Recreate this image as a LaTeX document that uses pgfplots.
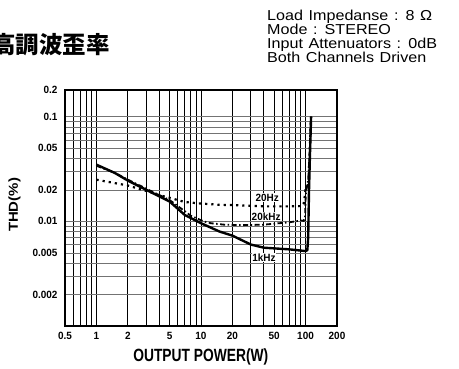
\documentclass[border=0pt]{standalone}
\usepackage{fontspec}
\usepackage{pgfplots}
\pgfplotsset{compat=1.18}
\setmainfont{Liberation Sans}
\newfontfamily\cjk{Noto Sans CJK JP}
\newfontfamily\tickfont{Liberation Sans}[FakeStretch=0.95]
\newfontfamily\labfont{Liberation Sans}[FakeStretch=0.78]
\newfontfamily\thdfont{Liberation Sans}[FakeStretch=1.15]
\newfontfamily\specfont{Liberation Sans}[FakeStretch=1.12,WordSpace=1.25]
\begin{document}
\begin{tikzpicture}
\useasboundingbox (0pt,0pt) rectangle (459pt,369pt);
\begin{axis}[
  at={(65pt,43pt)}, anchor=south west,
  width=272pt, height=236pt, scale only axis,
  xmode=log, ymode=log,
  xmin=0.5, xmax=200, ymin=0.001, ymax=0.18,
  axis line style={line width=1.2pt},
  xtick={0.5,1,2,5,10,20,50,100,200},
  xticklabels={0.5,1,2,5,10,20,50,100,200},
  minor xtick={0.6,0.7,0.8,0.9,3,4,6,7,8,9,30,40,60,70,80,90},
  ytick={0.002,0.005,0.01,0.02,0.05,0.1,0.18},
  yticklabels={0.002,0.005,0.01,0.02,0.05,0.1,0.2},
  minor ytick={0.003,0.004,0.006,0.007,0.008,0.009,0.03,0.04,0.06,0.07,0.08,0.09},
  major tick length=0pt, minor tick length=0pt,
  xmajorgrids, xminorgrids, ymajorgrids, yminorgrids,
  x grid style={black, line width=1pt},
  y grid style={black!55, line width=0.5pt},
  ticklabel style={font=\tickfont\bfseries\fontsize{10.5}{12}\selectfont},
  xticklabel style={yshift=-2.5pt},
  yticklabel style={xshift=-4pt},
  clip=true,
]
% 20Hz
\addplot[black, line width=2.2pt, dash pattern=on 2.2pt off 4pt] coordinates {
 (1,0.025) (1.5,0.0232) (2,0.022) (3,0.0195) (4,0.0178) (5,0.0168) (7,0.0153)
 (10,0.0148) (15,0.0144) (20,0.0143) (40,0.0139) (70,0.0139) (92,0.0140)
 (96,0.0148) (98,0.017) (100,0.020) (104,0.021) (107,0.025) (110,0.05) (113,0.1)};
% 20kHz
\addplot[black, line width=1.8pt, dash pattern=on 5pt off 2.5pt on 1.5pt off 2.5pt] coordinates {
 (1,0.034) (1.5,0.029) (2,0.025) (3,0.0205) (5,0.016) (7,0.0125) (8,0.0113)
 (10.6,0.0100) (12.4,0.0096) (16.6,0.0093) (25,0.0092) (40,0.0093) (70,0.0098)
 (91,0.0102) (96,0.0101) (99,0.011) (100,0.016) (102,0.020) (106,0.025) (110,0.05) (113,0.1)};
% 1kHz
\addplot[black, line width=2.4pt, line join=round] coordinates {
 (1,0.0348) (1.5,0.029) (2,0.0245) (3,0.020) (5,0.0155) (7,0.0115) (10,0.0096)
 (15,0.0080) (20,0.0073) (30,0.0060) (40,0.0056) (70,0.0054) (100,0.0052)
 (104,0.0053) (106,0.007) (107,0.012) (108,0.02) (110,0.04) (113,0.1)};
\node[font=\tickfont\bfseries\fontsize{10.5}{11}\selectfont, fill=white, inner sep=0.5pt] at (axis cs:43,0.0169) {20Hz};
\node[font=\tickfont\bfseries\fontsize{10.5}{11}\selectfont, fill=white, inner sep=0.5pt] at (axis cs:42,0.0111) {20kHz};
\node[font=\tickfont\bfseries\fontsize{10.5}{11}\selectfont, fill=white, inner sep=0.5pt] at (axis cs:40,0.0045) {1kHz};
\end{axis}
\node[font=\labfont\bfseries\fontsize{17.7}{18}\selectfont] at (200.8pt,12pt) {OUTPUT POWER(W)};
\node[font=\thdfont\bfseries\fontsize{13}{14}\selectfont, rotate=90] at (14.5pt,164pt) {THD(\%)};
\node[font=\cjk\bfseries\fontsize{23.5}{24}\selectfont, anchor=east, inner sep=0pt] at (110pt,324pt) {高調波歪率};
\node[font=\specfont\fontsize{14.4}{15}\selectfont, anchor=base west, inner sep=0pt] at (267pt,348.5pt) {Load Impedanse : 8 Ω};
\node[font=\specfont\fontsize{14.4}{15}\selectfont, anchor=base west, inner sep=0pt] at (267pt,334.5pt) {Mode : STEREO};
\node[font=\specfont\fontsize{14.4}{15}\selectfont, anchor=base west, inner sep=0pt] at (267pt,320.5pt) {Input Attenuators : 0dB};
\node[font=\specfont\fontsize{14.4}{15}\selectfont, anchor=base west, inner sep=0pt] at (267pt,306.5pt) {Both Channels Driven};
\end{tikzpicture}
\end{document}
